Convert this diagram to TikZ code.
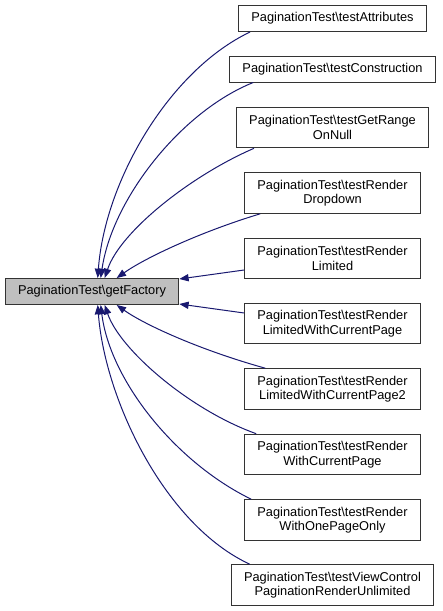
\documentclass[tikz,border=0pt]{standalone}
\usepackage{fontspec}
\setmainfont{Liberation Sans}
\usetikzlibrary{arrows.meta,calc}
\definecolor{EdgeNavy}{HTML}{191970}
\definecolor{FocusGray}{HTML}{BFBFBF}
\definecolor{BorderInk}{HTML}{333333}
\tikzset{
  cgNode/.style={rectangle,draw=BorderInk,line width=.75pt,fill=white,align=center,
    font=\fontsize{9.6}{10.9}\selectfont,inner xsep=9.6pt,inner ysep=0pt},
  cgOne/.style={cgNode,minimum height=19.5pt},
  cgTwo/.style={cgNode,minimum height=30.5pt},
  cgFocus/.style={cgOne,fill=FocusGray},
  cgEdge/.style={-{Triangle[length=7pt,width=5.4pt]},draw=EdgeNavy,line width=.75pt}
}
\begin{document}
\begin{tikzpicture}[x=.75pt,y=-.75pt]
  \useasboundingbox (0,0) rectangle (443,611);
  % Called function
  \node[cgFocus] (fac) at (92,291.5) {PaginationTest\textbackslash getFactory};

  % Callers
  \node[cgOne] (attr) at (332.5,18.5) {PaginationTest\textbackslash testAttributes};
  \node[cgOne] (constr) at (332.5,69) {PaginationTest\textbackslash testConstruction};
  \node[cgTwo] (range) at (332.5,127.5) {PaginationTest\textbackslash testGetRange\\OnNull};
  \node[cgTwo] (dropdown) at (332.5,193) {PaginationTest\textbackslash testRender\\Dropdown};
  \node[cgTwo] (limited) at (332.5,258.5) {PaginationTest\textbackslash testRender\\Limited};
  \node[cgTwo] (lwcp) at (332.5,323.5) {PaginationTest\textbackslash testRender\\LimitedWithCurrentPage};
  \node[cgTwo] (lwcpTwo) at (332.5,389) {PaginationTest\textbackslash testRender\\LimitedWithCurrentPage2};
  \node[cgTwo] (wcp) at (332.5,454.5) {PaginationTest\textbackslash testRender\\WithCurrentPage};
  \node[cgTwo] (onepage) at (332.5,520) {PaginationTest\textbackslash testRender\\WithOnePageOnly};
  \node[cgTwo] (viewctl) at (332.5,585) {PaginationTest\textbackslash testViewControl\\PaginationRenderUnlimited};

  % Call edges, arrowheads on getFactory
  \draw[cgEdge] ($(attr.south west)+(12,0)$) .. controls (170,70) and (105,180) .. ($(fac.north west)+(93,0)$);
  \draw[cgEdge] ($(constr.south west)+(24,0)$) .. controls (180,112) and (112,200) .. ($(fac.north west)+(96,0)$);
  \draw[cgEdge] ($(range.south west)+(18,0)$) .. controls (190,176) and (120,232) .. ($(fac.north west)+(100,0)$);
  \draw[cgEdge] ($(dropdown.south west)+(16,0)$) .. controls (200,232) and (145,258) .. ($(fac.north west)+(112,0)$);
  \draw[cgEdge] ($(limited.west)+(0,11.5)$) -- ($(fac.north east)+(0,1)$);
  \draw[cgEdge] ($(lwcp.west)+(0,-10.5)$) -- ($(fac.south east)+(0,-1)$);
  \draw[cgEdge] ($(lwcpTwo.north west)+(21,0)$) .. controls (200,350) and (145,325) .. ($(fac.south west)+(112,0)$);
  \draw[cgEdge] ($(wcp.north west)+(12,0)$) .. controls (190,410) and (120,350) .. ($(fac.south west)+(100,0)$);
  \draw[cgEdge] ($(onepage.north west)+(7,0)$) .. controls (175,462) and (110,380) .. ($(fac.south west)+(96,0)$);
  \draw[cgEdge] ($(viewctl.north west)+(19,0)$) .. controls (165,525) and (105,400) .. ($(fac.south west)+(93,0)$);
\end{tikzpicture}
\end{document}
